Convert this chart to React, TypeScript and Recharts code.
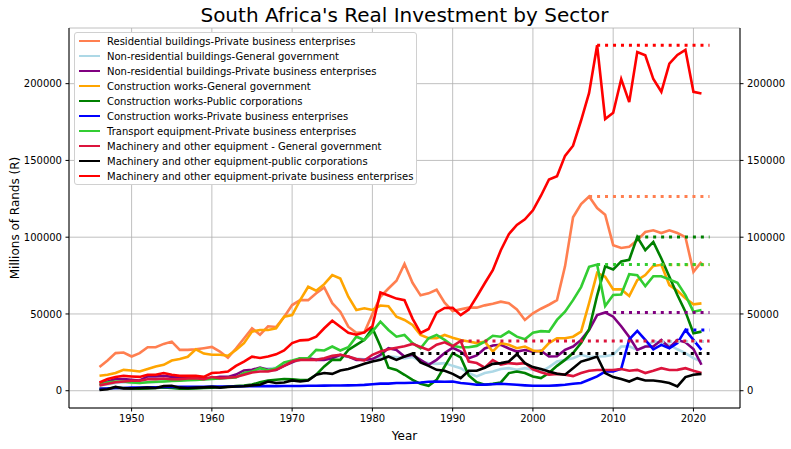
import { LineChart, Line, XAxis, YAxis, CartesianGrid } from 'recharts';

const years = [
  1946, 1947, 1948, 1949,
  1950, 1951, 1952, 1953, 1954, 1955, 1956, 1957, 1958, 1959,
  1960, 1961, 1962, 1963, 1964, 1965, 1966, 1967, 1968, 1969,
  1970, 1971, 1972, 1973, 1974, 1975, 1976, 1977, 1978, 1979,
  1980, 1981, 1982, 1983, 1984, 1985, 1986, 1987, 1988, 1989,
  1990, 1991, 1992, 1993, 1994, 1995, 1996, 1997, 1998, 1999,
  2000, 2001, 2002, 2003, 2004, 2005, 2006, 2007, 2008, 2009,
  2010, 2011, 2012, 2013, 2014, 2015, 2016, 2017, 2018, 2019,
  2020, 2021,
];
const peakEndYear = 2022;

// millions of rands, 1946..2021
const resPriv = [
  15400, 19700, 24500, 24900,
  22300, 24500, 28300, 28300, 30500, 32000, 26600, 26600, 27000, 27700,
  28500, 25500, 21500, 27500, 34000, 40700, 36500, 42000, 41500, 48000,
  55800, 59000, 59000, 63500, 67300, 57000, 51500, 41700, 37800, 38000,
  50000, 61200, 66600, 71600, 82600, 70300, 62100, 63400, 65800, 57300,
  51900, 53000, 54100, 54100, 55600, 56700, 58000, 57000, 53000, 46100,
  50400, 53400, 56000, 59000, 81000, 113000, 121500, 126500, 119000, 114700,
  94800, 93000, 93700, 98000, 103400, 104500, 102700, 104500, 102700, 100100,
  77400, 83900,
];
const nonresGG = [
  3500, 4000, 5000, 5500,
  5000, 5000, 5500, 5500, 6000, 6500, 7000, 7000, 7500, 7500,
  8000, 8000, 8500, 9500, 11000, 12500, 14000, 14500, 15000, 17000,
  18500, 20000, 21000, 20500, 21000, 22000, 22500, 22000, 21000, 20500,
  21000, 21500, 22300, 22000, 21000, 22000, 19000, 18000, 17500, 18000,
  16200, 14700, 11500, 9300, 11500, 12500, 14100, 14700, 13600, 14700,
  13600, 12500, 15400, 19000, 20100, 21200, 23400, 22000, 22300, 22500,
  23400, 28800, 29000, 26600, 28800, 32000, 31000, 29900, 27000, 24500,
  21200, 19000,
];
const nonresPriv = [
  5000, 6000, 7600, 7600,
  7100, 6700, 9300, 9300, 9700, 9000, 9000, 9000, 9300, 8200,
  8200, 9000, 9000, 10500, 13200, 13600, 15100, 13600, 13600, 16200,
  18500, 21200, 21200, 20100, 20100, 21200, 23400, 22300, 20100, 20100,
  20600, 23400, 27700, 26600, 22300, 23400, 20100, 16900, 20100, 24500,
  28000, 25500, 21200, 23000, 27500, 29500, 29900, 27500, 25500, 26500,
  25500, 26000, 22300, 22500, 26600, 28800, 33100, 39600, 49300, 51000,
  48200, 42000, 35000, 26600, 28800, 28800, 33100, 28000, 33100, 31500,
  27200, 16900,
];
const conGG = [
  9700, 10400, 11500, 13600,
  13200, 12500, 14100, 15800, 16900, 19700, 20600, 22100, 27000, 24200,
  23400, 23400, 22800, 26500, 31000, 38500, 39600, 39600, 40700, 48200,
  49300, 59000, 67700, 65100, 69400, 75300, 73100, 61200, 52600, 53700,
  52600, 55500, 55000, 48200, 46100, 42800, 36300, 34200, 34200, 36300,
  34500, 33100, 32000, 31000, 32000, 25500, 31000, 29900, 27700, 28800,
  26200, 25500, 31000, 34200, 34200, 35200, 38500, 57000, 76800, 74200,
  66000, 66000, 61700, 72000, 75300, 81300, 82000, 68800, 65100, 60200,
  56300, 56900,
];
const conPC = [
  1200, 1500, 2000, 1800,
  1500, 1300, 1500, 1800, 2200, 1800, 1300, 1300, 1500, 1800,
  2000, 2300, 2600, 3000, 3300, 4000, 5500, 6700, 7100, 7600,
  7500, 7000, 7100, 10400, 15800, 20100, 20100, 26600, 29900, 33100,
  40700, 29000, 15000, 13500, 10400, 7100, 4500, 3200, 7100, 15800,
  24500, 21700, 10000, 5500, 3900, 4500, 5400, 11500, 12500, 11500,
  9300, 8200, 11500, 16200, 20100, 24500, 31000, 40000, 62000, 81000,
  79000, 84200, 85300, 100100, 91500, 96900, 86100, 74200, 62300, 51500,
  37400, 38500,
];
const conPriv = [
  1200, 1500, 1800, 1800,
  2000, 2000, 2200, 2300, 2400, 2500, 2500, 2600, 2600, 2600,
  2700, 2700, 2800, 2800, 2900, 3000, 3000, 3000, 3000, 3100,
  3100, 3100, 3200, 3200, 3300, 3400, 3400, 3500, 3600, 3800,
  4200, 4600, 4600, 5000, 5000, 5200, 5400, 5800, 6000, 5800,
  6000, 5000, 4500, 3900, 4000, 4200, 4500, 4200, 3900, 3500,
  3200, 3200, 3200, 3500, 3900, 4500, 5000, 7100, 9300, 12500,
  12500, 14300, 33500, 39000, 33100, 27000, 29900, 27700, 31000, 39600,
  33100, 26600,
];
const transPriv = [
  3900, 5400, 6000, 6000,
  5400, 5000, 5500, 5800, 6000, 6300, 6500, 6800, 7000, 7300,
  7600, 8000, 8300, 8600, 11500, 12500, 14700, 13200, 14700, 18400,
  19700, 21200, 21200, 26600, 26200, 28800, 26200, 28300, 35200, 33100,
  38500, 45000, 39600, 35200, 36300, 31000, 27700, 34200, 36300, 33100,
  29200, 28300, 28300, 29200, 32000, 35800, 35200, 38500, 35200, 33500,
  37800, 38800, 38500, 46100, 51500, 59000, 67500, 80700, 82200, 55200,
  62300, 62700, 75900, 75300, 68100, 74600, 74600, 72500, 70300, 62300,
  51500, 52600,
];
const machGG = [
  3500, 4500, 5500, 6000,
  6500, 6500, 7500, 7500, 8000, 7500, 7500, 8000, 8200, 7500,
  8900, 8200, 8500, 8900, 10400, 11900, 12500, 12500, 13600, 16200,
  19000, 20100, 20100, 20100, 21200, 22700, 23400, 22300, 20600, 19700,
  23400, 25500, 27000, 28000, 29000, 30500, 28500, 26500, 30000, 31500,
  29000, 32400, 19000, 18000, 15000, 20000, 17000, 18000, 17500, 18000,
  14000, 12000, 10500, 11000, 10500, 9500, 11500, 13000, 13500, 13500,
  13500, 14100, 13000, 13600, 11500, 13000, 14700, 13500, 13600, 14700,
  13000, 11500,
];
const machPC = [
  500, 1000, 2500, 1500,
  1500, 1800, 2000, 1800, 3000, 3200, 2000, 1800, 2000, 2200,
  2500, 2000, 2500, 2800, 2900, 3500, 3900, 6000, 5000, 5400,
  6700, 6000, 6700, 10400, 11500, 11000, 13200, 14100, 15800, 17500,
  19000, 20100, 22300, 20100, 22300, 24200, 18500, 16200, 13600, 13000,
  11000, 8200, 13000, 13000, 15000, 17500, 18000, 19000, 23800, 18000,
  15400, 14100, 12500, 11000, 10400, 14700, 19000, 20500, 22300, 11500,
  8900, 7600, 6000, 8200, 6700, 6700, 6000, 5000, 2800, 8900,
  10400, 11000,
];
const machPriv = [
  5400, 7600, 8900, 9700,
  9300, 9000, 10400, 10400, 11500, 10400, 9700, 9700, 9700, 9000,
  11500, 11900, 12500, 16200, 19000, 22200, 21300, 22300, 23700, 26300,
  31000, 32800, 33100, 35200, 40700, 45600, 41700, 37800, 36500, 38000,
  42000, 64000, 62000, 60000, 59000, 47000, 37600, 40200, 50800, 53900,
  54000, 49200, 52800, 61200, 70000, 78500, 91500, 102000, 108000, 111600,
  117500, 127000, 137600, 139700, 153000, 159600, 176000, 194000, 225000, 177000,
  181000, 203000, 188000, 220600, 218500, 203000, 194700, 213000, 218700, 222000,
  194700, 193600,
];

const series = [
  { key: 'resPriv', name: 'Residential buildings-Private business enterprises', color: '#ff7f50', values: resPriv },
  { key: 'nonresGG', name: 'Non-residential buildings-General government', color: '#add8e6', values: nonresGG },
  { key: 'nonresPriv', name: 'Non-residential buildings-Private business enterprises', color: '#800080', values: nonresPriv },
  { key: 'conGG', name: 'Construction works-General government', color: '#ffa500', values: conGG },
  { key: 'conPC', name: 'Construction works-Public corporations', color: '#008000', values: conPC },
  { key: 'conPriv', name: 'Construction works-Private business enterprises', color: '#0000ff', values: conPriv },
  { key: 'transPriv', name: 'Transport equipment-Private business enterprises', color: '#32cd32', values: transPriv },
  { key: 'machGG', name: 'Machinery and other equipment - General government', color: '#dc143c', values: machGG },
  { key: 'machPC', name: 'Machinery and other equipment-public corporations', color: '#000000', values: machPC },
  { key: 'machPriv', name: 'Machinery and other equipment-private business enterprises', color: '#ff0000', values: machPriv },
];

const xTicks = [1950, 1960, 1970, 1980, 1990, 2000, 2010, 2020];
const yTicks = [0, 50000, 100000, 150000, 200000];
const xDomain = [1942.2, 2025.8];
const yDomain = [-11250, 236250];

// each series' peak, held flat from the peak year to 2022
const peaks = series.map(s => {
  const max = Math.max(...s.values);
  return { key: s.key + '_peak', color: s.color, value: max, year: years[s.values.indexOf(max)] };
});

const rows = [...years, peakEndYear].map((year, i) => {
  const row: Record<string, number | undefined> = { year };
  series.forEach(s => { row[s.key] = s.values[i]; });
  peaks.forEach(p => { row[p.key] = year >= p.year ? p.value : undefined; });
  return row;
});

const FONT = '"DejaVu Sans", sans-serif';
const tickStyle = { fontSize: 10, fill: '#000', fontFamily: FONT };

const PLOT_L = 69, PLOT_R = 740, PLOT_T = 28, PLOT_B = 408;

function Legend() {
  return (
    <div style={{
      position: 'absolute', left: 74, top: 32, width: 341, height: 151,
      background: '#fff', border: '1px solid #d0d0d0', borderRadius: 3,
      fontFamily: FONT, fontSize: 10, color: '#000',
    }}>
      {series.map((s, i) => (
        <div key={s.key} style={{ position: 'absolute', left: 0, top: 0.5 + i * 15, height: 15, display: 'flex', alignItems: 'center', whiteSpace: 'nowrap' }}>
          <div style={{ marginLeft: 4, width: 21, height: 2.6, background: s.color }} />
          <span style={{ marginLeft: 7 }}>{s.name}</span>
        </div>
      ))}
    </div>
  );
}

export default function App() {
  return (
    <div style={{ position: 'relative', width: 791, height: 449, background: '#fff' }}>
      <style>{'body{margin:0}'}</style>
      <div style={{
        position: 'absolute', left: PLOT_L, width: PLOT_R - PLOT_L, top: 5, textAlign: 'center',
        fontFamily: FONT, fontSize: 20, lineHeight: '20px', color: '#000',
      }}>
        South Africa's Real Investment by Sector
      </div>
      <LineChart width={791} height={449} data={rows} margin={{ top: PLOT_T, right: 0, bottom: 0, left: 0 }}>
        <CartesianGrid xAxisId="bottom" yAxisId="left" stroke="#b0b0b0" strokeWidth={0.8} />
        <XAxis
          xAxisId="bottom" dataKey="year" type="number" domain={xDomain} ticks={xTicks}
          allowDataOverflow height={PLOT_B === 408 ? 41 : 41} tick={tickStyle} tickSize={3.5} tickMargin={3.5}
          axisLine={{ stroke: '#000' }} tickLine={{ stroke: '#000' }}
          label={{
            content: () => (
              <text x={(PLOT_L + PLOT_R) / 2} y={440} textAnchor="middle" fontSize={12} fontFamily={FONT} fill="#000">Year</text>
            ),
          }}
        />
        <XAxis
          xAxisId="top" dataKey="year" type="number" domain={xDomain} orientation="top"
          allowDataOverflow height={0} tick={false} tickLine={false} axisLine={{ stroke: '#000' }}
        />
        <YAxis
          yAxisId="left" type="number" domain={yDomain} ticks={yTicks} allowDataOverflow width={PLOT_L}
          tick={tickStyle} tickSize={3.5} tickMargin={3.5} tickFormatter={(v: number) => String(v)}
          axisLine={{ stroke: '#000' }} tickLine={{ stroke: '#000' }}
          label={{
            content: () => (
              <text x={15} y={(PLOT_T + PLOT_B) / 2} textAnchor="middle" dominantBaseline="central"
                transform={`rotate(-90 15 ${(PLOT_T + PLOT_B) / 2})`} fontSize={12} fontFamily={FONT} fill="#000">
                Millions of Rands (R)
              </text>
            ),
          }}
        />
        <YAxis
          yAxisId="right" orientation="right" type="number" domain={yDomain} ticks={yTicks} allowDataOverflow
          width={791 - PLOT_R} tick={tickStyle} tickSize={3.5} tickMargin={3.5} tickFormatter={(v: number) => String(v)}
          axisLine={{ stroke: '#000' }} tickLine={{ stroke: '#000' }}
        />
        {series.map(s => (
          <Line
            key={s.key} xAxisId="bottom" yAxisId="left" type="linear" dataKey={s.key} name={s.name}
            stroke={s.color} strokeWidth={2.6} dot={false} activeDot={false} isAnimationActive={false}
          />
        ))}
        {peaks.map(p => (
          <Line
            key={p.key} xAxisId="top" yAxisId="right" type="linear" dataKey={p.key}
            stroke={p.color} strokeWidth={3} strokeDasharray="3 4.95" dot={false} activeDot={false}
            isAnimationActive={false} legendType="none"
          />
        ))}
      </LineChart>
      <Legend />
    </div>
  );
}
